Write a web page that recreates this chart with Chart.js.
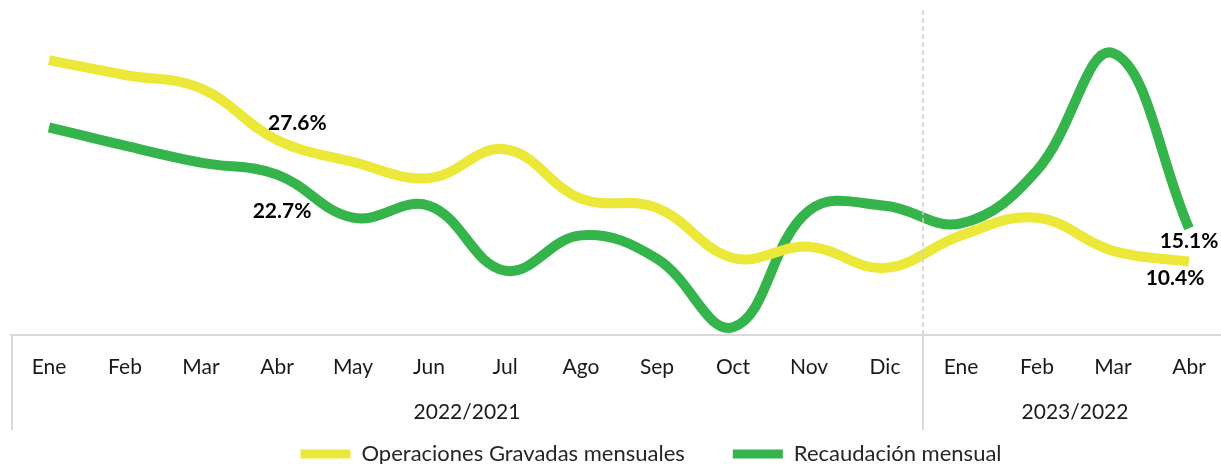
<!DOCTYPE html>
<html><head><meta charset="utf-8">
<script src="https://cdn.jsdelivr.net/npm/chart.js@4.4.0/dist/chart.umd.min.js"></script>
<style>html,body{margin:0;padding:0;overflow:hidden;background:#fff}
#wrap{position:relative;width:1228px;height:464px}</style>
</head><body><div id="wrap"><canvas id="c"></canvas></div>
<script>
const months = ['Ene','Feb','Mar','Abr','May','Jun','Jul','Ago','Sep','Oct','Nov','Dic','Ene','Feb','Mar','Abr'];
const groups = ['2022/2021','2023/2022'];
const groupSizes = [12, 4];
const operaciones = [38.9,36.8,34.9,27.6,24.5,22.2,26.3,19.3,18.0,10.9,12.5,9.5,14.1,16.6,11.9,10.4];
const recaudacion = [29.4,26.8,24.4,22.7,16.6,18.3,9.1,14.1,10.8,1.1,17.6,18.3,15.8,23.3,39.9,15.1];
const seriesNames = ['Operaciones Gravadas mensuales','Recaudación mensual'];
const labelledIdx = [3, 15];

const FONT = 'Lato, "Open Sans", sans-serif';
const YELLOW = '#ebe83a', GREEN = '#34b44b';

// label offsets (style): [dx, dy, align] per series per labelled index
const labelStyle = [
  {3:[-9,-17,'left'], 15:[-14,17,'center']},
  {3:[5,37,'center'], 15:[0,13,'center']}
];

const groupCenters = [];
{ let s = 0; for (const n of groupSizes) { groupCenters.push(s + n/2 - 0.5); s += n; } }
const groupBounds = [];
{ let s = 0; for (const n of groupSizes) { s += n; groupBounds.push(s - 0.5); } }

const decor = {
  id: 'decor',
  afterLayout(chart) {
    const lg = chart.legend;
    if (lg) { lg.left += 32; lg.right += 32; lg.top -= 35; lg.bottom -= 35; }
  },
  afterDraw(chart) {
    const {ctx, scales, chartArea: ca} = chart;
    const x = scales.x, x2 = scales.x2, y = scales.y;
    const bottom = x2.bottom;
    ctx.save();
    ctx.strokeStyle = '#d9d9d9';
    ctx.lineWidth = 2;
    ctx.beginPath();
    ctx.moveTo(x.left + 1, ca.bottom); ctx.lineTo(x.left + 1, bottom);
    ctx.stroke();
    groupBounds.slice(0, -1).forEach(b => {
      const px = Math.round(x2.getPixelForValue(b));
      ctx.beginPath();
      ctx.lineWidth = 1.5;
      ctx.strokeStyle = '#cfcfcf';
      ctx.setLineDash([5, 3]);
      ctx.moveTo(px, ca.top); ctx.lineTo(px, ca.bottom);
      ctx.stroke();
      ctx.setLineDash([]);
      ctx.beginPath();
      ctx.lineWidth = 2;
      ctx.strokeStyle = '#d9d9d9';
      ctx.moveTo(px, ca.bottom); ctx.lineTo(px, bottom);
      ctx.stroke();
    });
    // value labels
    ctx.fillStyle = '#000';
    ctx.font = 'bold 21px ' + FONT;
    ctx.textBaseline = 'middle';
    chart.data.datasets.forEach((ds, di) => {
      labelledIdx.forEach(i => {
        const st = labelStyle[di][i];
        const px = x.getPixelForValue(i), py = y.getPixelForValue(ds.data[i]);
        ctx.textAlign = st[2];
        ctx.fillText(ds.data[i].toFixed(1) + '%', px + st[0], py + st[1]);
      });
    });
    ctx.restore();
  }
};

new Chart(document.getElementById('c'), {
  type: 'line',
  data: {
    labels: months,
    datasets: [
      {label: seriesNames[0], data: operaciones, borderColor: YELLOW, backgroundColor: YELLOW},
      {label: seriesNames[1], data: recaudacion, borderColor: GREEN, backgroundColor: GREEN}
    ]
  },
  options: {
    responsive: true, maintainAspectRatio: false, animation: false,
    layout: {padding: {left: 11, right: 1, top: 10, bottom: -46}},
    elements: {
      line: {borderWidth: 10, tension: 0.4, borderCapStyle: 'butt', borderJoinStyle: 'round', fill: false},
      point: {radius: 0, hoverRadius: 0}
    },
    datasets: {line: {clip: false}},
    plugins: {
      tooltip: {enabled: false},
      legend: {
        position: 'bottom',
        labels: {
          boxWidth: 50, boxHeight: 9, padding: 48,
          color: '#262626', font: {family: FONT, size: 22},
          generateLabels(chart) {
            return chart.data.datasets.map((ds, i) => ({
              text: ds.label, fillStyle: ds.borderColor, strokeStyle: ds.borderColor,
              lineWidth: 0, datasetIndex: i, hidden: false, fontColor: '#262626'
            }));
          }
        }
      }
    },
    scales: {
      y: {display: false, min: 0, max: 46},
      x: {
        type: 'category', offset: true,
        grid: {display: false, drawTicks: false},
        border: {display: true, color: '#d9d9d9', width: 2},
        afterFit(scale) { scale.height = 45; },
        ticks: {color: '#1a1a1a', font: {family: FONT, size: 21}, padding: 20, maxRotation: 0, autoSkip: false}
      },
      x2: {
        type: 'linear', position: 'bottom', min: -0.5, max: 15.5,
        grid: {display: false, drawTicks: false},
        border: {display: false},
        afterFit(scale) { scale.height = 50; },
        afterBuildTicks(scale) { scale.ticks = groupCenters.map(v => ({value: v})); },
        ticks: {
          color: '#1a1a1a', font: {family: FONT, size: 21}, padding: 20, maxRotation: 0, autoSkip: false,
          callback(v, i) { return groups[i]; }
        }
      }
    }
  },
  plugins: [decor]
});
</script></body></html>
